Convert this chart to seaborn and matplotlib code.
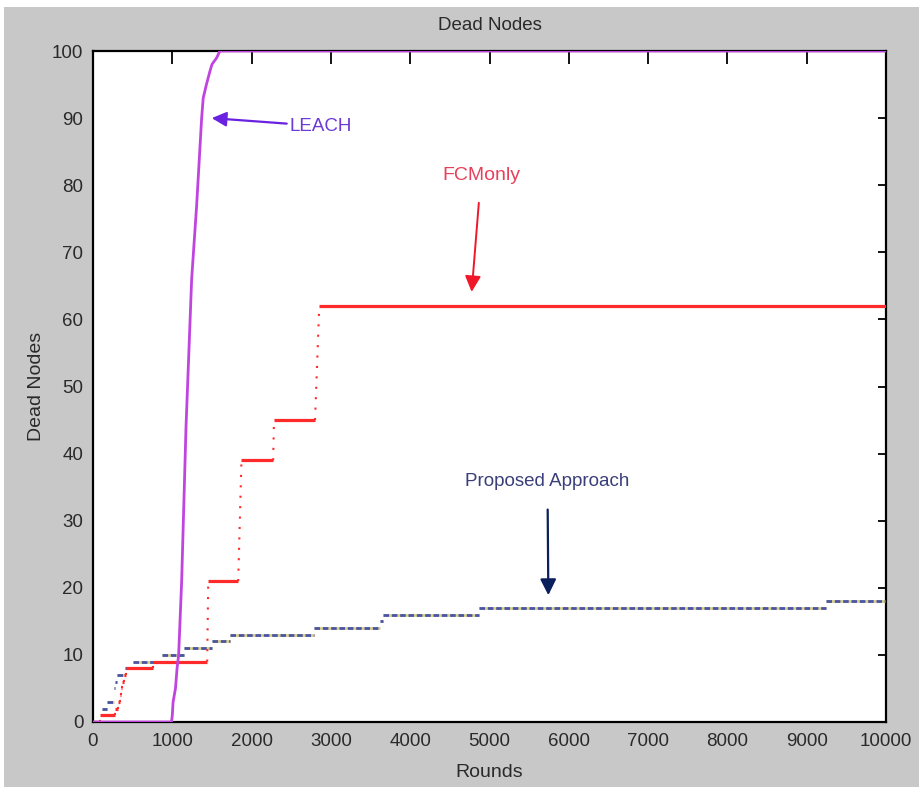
import matplotlib
matplotlib.use("Agg")
import matplotlib.pyplot as plt
from matplotlib.patches import Rectangle
import seaborn as sns
import pandas as pd

# ---------------- data ----------------
leach_rounds = [0, 990, 1000, 1010, 1040, 1060, 1080, 1118, 1173, 1244, 1307,
                1370, 1390, 1430, 1475, 1500, 1560, 1600, 10000]
leach_dead = [0, 0, 1, 3, 5, 8, 10, 21, 44, 66, 77, 90, 93, 95, 97, 98, 99, 100, 100]

fcm_start = [0, 88, 280, 320, 335, 350, 365, 385, 410, 760, 1453, 1872, 2282, 2853]
fcm_end = [88, 280, 320, 335, 350, 365, 385, 410, 760, 1440, 1831, 2272, 2800, 10000]
fcm_dead = [0, 1, 2, 3, 4, 5, 6, 7, 8, 9, 21, 39, 45, 62]

prop_start = [0, 110, 180, 262, 268, 275, 300, 400, 500, 865, 1148, 1500, 1730,
              2790, 3625, 3660, 4865, 9243]
prop_dead = [0, 2, 3, 4, 5, 6, 7, 8, 9, 10, 11, 12, 13, 14, 15, 16, 17, 18]

x_ticks = list(range(0, 10001, 1000))
y_ticks = list(range(0, 101, 10))

title = "Dead Nodes"
x_label = "Rounds"
y_label = "Dead Nodes"

# ---------------- style ----------------
sns.set_style("white")
plt.rcParams["font.family"] = ["Liberation Sans", "DejaVu Sans"]

LEACH_C = "#c044e0"
FCM_C = "#ff2a2a"
PROP_C = "#4a55a8"
TXT = "#2a2a2a"
FS = 13.5

fig = plt.figure(figsize=(9.19, 7.89), dpi=100)
fig.patch.set_facecolor("white")
fig.patches.append(Rectangle((4 / 919, 2 / 789), 1 - 4 / 919, 1 - 9 / 789,
                             transform=fig.transFigure, facecolor="#c8c8c8",
                             edgecolor="none", zorder=-10))
ax = fig.add_axes([93 / 919, 1 - 722 / 789, (886 - 93) / 919, (722 - 51) / 789])
ax.set_facecolor("white")

# Proposed approach (dotted blue step segments)
prop_end = prop_start[1:] + [10000]
ax.hlines(prop_dead, prop_start, prop_end, colors="#d8cf86", linewidth=2.0, zorder=2)
ax.hlines(prop_dead, prop_start, prop_end, colors=PROP_C, linewidth=2.0,
          linestyles=(0, (2.0, 1.0)), zorder=3)

# FCMonly (solid horizontal, dotted risers)
ax.hlines(fcm_dead, fcm_start, fcm_end, colors=FCM_C, linewidth=2.3, zorder=4)
for i in range(len(fcm_dead) - 1):
    ax.plot([fcm_end[i], fcm_start[i + 1]], [fcm_dead[i], fcm_dead[i + 1]],
            color=FCM_C, linewidth=1.5, linestyle=(0, (1, 4)), zorder=4)

# LEACH
leach_df = pd.DataFrame({"Rounds": leach_rounds, "Dead": leach_dead})
sns.lineplot(data=leach_df, x="Rounds", y="Dead", color=LEACH_C, linewidth=2,
             ax=ax, zorder=5, estimator=None, sort=False)

ax.set_xlim(0, 10000)
ax.set_ylim(0, 100)
ax.set_xticks(x_ticks)
ax.set_yticks(y_ticks)
ax.tick_params(axis="both", direction="in", top=True, right=True,
               labelsize=FS, labelcolor=TXT, color="black", width=1.3)
ax.tick_params(axis="x", length=9, pad=8)
ax.tick_params(axis="y", length=6, pad=7)
for s in ax.spines.values():
    s.set_linewidth(1.6)
    s.set_color("black")
    s.set_visible(True)

ax.set_title(title, fontsize=FS, color=TXT, pad=15)
ax.set_xlabel(x_label, fontsize=FS + 0.5, color=TXT, labelpad=10)
ax.set_ylabel(y_label, fontsize=FS + 0.5, color=TXT, labelpad=5)

# Annotations
ax.annotate("LEACH", xy=(1497, 90.0), xytext=(2484, 88.8), color="#6a3ad8",
            fontsize=FS, ha="left", va="center",
            arrowprops=dict(arrowstyle="-|>", color="#6a22e0", lw=1.6,
                            mutation_scale=22, shrinkA=0, shrinkB=0))
ax.annotate("FCMonly", xy=(4775, 64.1), xytext=(4893, 81.4), color="#e8405a",
            fontsize=FS + 0.5, ha="center", va="center",
            arrowprops=dict(arrowstyle="-|>", color="#f01828", lw=1.4,
                            mutation_scale=24, shrinkA=11, shrinkB=0))
ax.annotate("Proposed Approach", xy=(5742, 18.9), xytext=(5731, 35.9),
            color="#3a3f7a", fontsize=FS, ha="center", va="center",
            arrowprops=dict(arrowstyle="-|>", color="#0b1f5c", lw=1.6,
                            mutation_scale=24, shrinkA=12, shrinkB=0))

fig.savefig("out.png", dpi=100, facecolor=fig.get_facecolor())
